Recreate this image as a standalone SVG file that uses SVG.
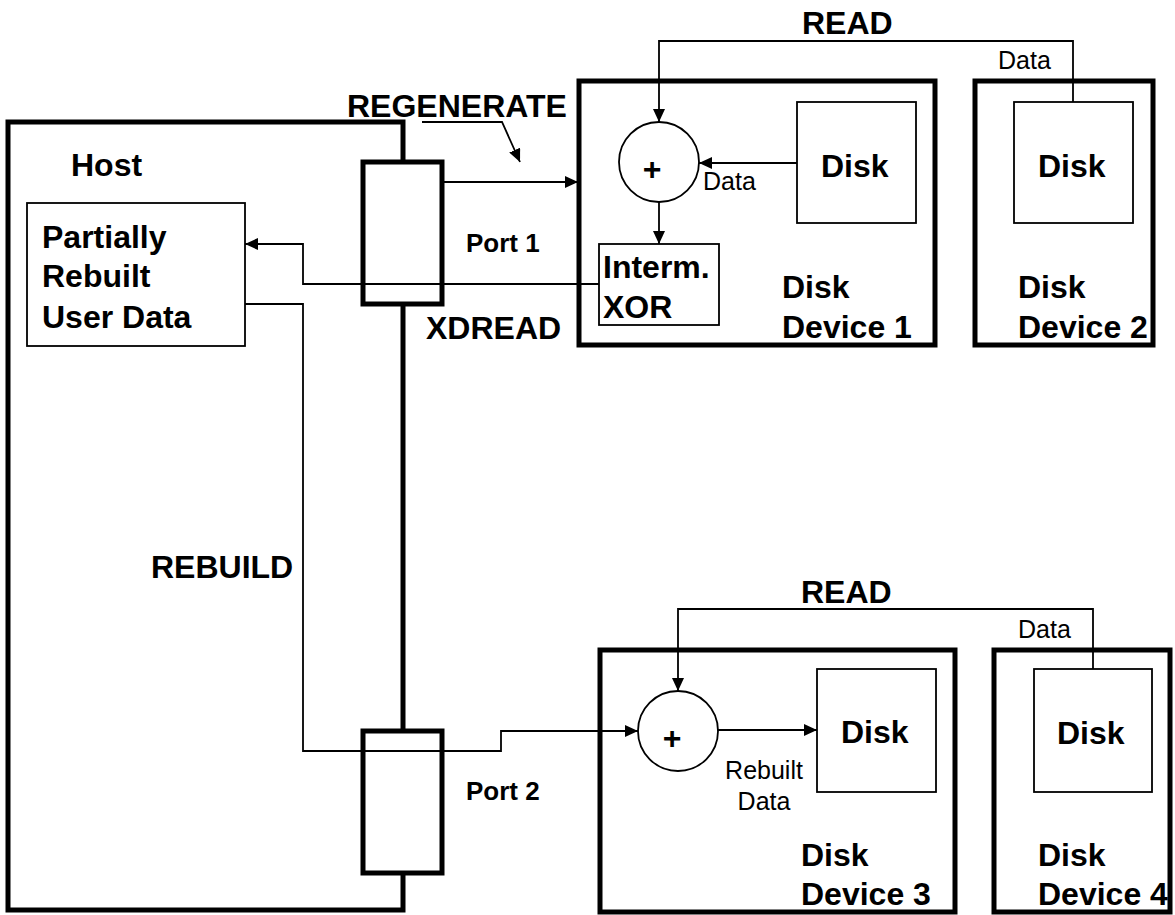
<svg xmlns="http://www.w3.org/2000/svg" width="1175" height="915" viewBox="0 0 1175 915">
<style>
.thick{fill:#fff;stroke:#000;stroke-width:5;stroke-linejoin:miter}
.thin{fill:#fff;stroke:#000;stroke-width:1.8}
.wire{fill:none;stroke:#000;stroke-width:1.8}
.b{font-family:"Liberation Sans",Arial,sans-serif;font-weight:bold;font-size:32px;fill:#000}
.p{font-family:"Liberation Sans",Arial,sans-serif;font-weight:bold;font-size:26px;fill:#000}
.r{font-family:"Liberation Sans",Arial,sans-serif;font-size:25px;fill:#000}
</style>
<defs>
<marker id="ah" markerUnits="userSpaceOnUse" markerWidth="14" markerHeight="12" refX="13" refY="6" orient="auto">
<path d="M0,0 L13,6 L0,12 z" fill="#000"/>
</marker>
</defs>
<rect width="1175" height="915" fill="#fff"/>

<g id="host">
<rect class="thick" x="8" y="122" width="395" height="788" fill="none"/>
<text class="b" x="71" y="176">Host</text>
</g>
<g id="partial">
<rect class="thin" x="27" y="203" width="218" height="143"/>
<text class="b" x="42" y="248">Partially</text>
<text class="b" x="42" y="287">Rebuilt</text>
<text class="b" x="42" y="328">User Data</text>
</g>
<g id="port1">
<rect class="thick" x="363" y="162" width="79" height="142"/>
<text class="p" x="466" y="252">Port 1</text>
</g>
<g id="port2">
<rect class="thick" x="363" y="731" width="79" height="142"/>
<text class="p" x="466" y="800">Port 2</text>
</g>

<g id="dev1">
<rect class="thick" x="579" y="81" width="356" height="264"/>
<text class="b" x="782" y="298">Disk</text>
<text class="b" x="782" y="338">Device 1</text>
</g>
<g id="disk1">
<rect class="thin" x="797" y="102" width="119" height="121"/>
<text class="b" x="821" y="177">Disk</text>
</g>
<g id="xor1">
<circle class="thin" cx="659" cy="162" r="40"/>
<text class="b" x="652" y="180" text-anchor="middle" font-size="30">+</text>
</g>
<g id="interm">
<rect class="thin" x="599" y="244" width="120" height="81"/>
<text class="b" x="603" y="278">Interm.</text>
<text class="b" x="603" y="318">XOR</text>
</g>

<g id="dev2">
<rect class="thick" x="975" y="81" width="178" height="264"/>
<text class="b" x="1018" y="298">Disk</text>
<text class="b" x="1018" y="338">Device 2</text>
</g>
<g id="disk2">
<rect class="thin" x="1014" y="102" width="119" height="121"/>
<text class="b" x="1038" y="177">Disk</text>
</g>

<g id="dev3">
<rect class="thick" x="600" y="650" width="355" height="262"/>
<text class="b" x="801" y="866">Disk</text>
<text class="b" x="801" y="905">Device 3</text>
</g>
<g id="disk3">
<rect class="thin" x="817" y="669" width="119" height="123"/>
<text class="b" x="841" y="743">Disk</text>
</g>
<g id="xor3">
<circle class="thin" cx="678" cy="731" r="40"/>
<text class="b" x="672" y="749" text-anchor="middle" font-size="30">+</text>
</g>

<g id="dev4">
<rect class="thick" x="994" y="650" width="176" height="262"/>
<text class="b" x="1038" y="866">Disk</text>
<text class="b" x="1038" y="905">Device 4</text>
</g>
<g id="disk4">
<rect class="thin" x="1034" y="669" width="118" height="123"/>
<text class="b" x="1057" y="744">Disk</text>
</g>

<g id="connectors">
<path class="wire" d="M442,182 L578,182" marker-end="url(#ah)"/>
<path class="wire" d="M1073,102 L1073,41 L659,41 L659,122" marker-end="url(#ah)"/>
<path class="wire" d="M797,163 L699,163" marker-end="url(#ah)"/>
<path class="wire" d="M659,202 L659,244" marker-end="url(#ah)"/>
<path class="wire" d="M599,284 L303,284 L303,244 L245,244" marker-end="url(#ah)"/>
<path class="wire" d="M245,304 L303,304 L303,751 L501,751 L501,731 L638,731" marker-end="url(#ah)"/>
<path class="wire" d="M1093,669 L1093,609 L678,609 L678,691" marker-end="url(#ah)"/>
<path class="wire" d="M718,730 L817,730" marker-end="url(#ah)"/>
<path class="wire" d="M422,122 L502,122 L520,162" marker-end="url(#ah)"/>
</g>

<g id="labels">
<text class="b" x="347" y="117">REGENERATE</text>
<text class="b" x="426" y="339">XDREAD</text>
<text class="b" x="151" y="578">REBUILD</text>
<text class="b" x="802" y="34">READ</text>
<text class="r" x="998" y="69">Data</text>
<text class="r" x="703" y="190">Data</text>
<text class="b" x="801" y="603">READ</text>
<text class="r" x="1018" y="638">Data</text>
<text class="r" x="764" y="779" text-anchor="middle">Rebuilt</text>
<text class="r" x="764" y="810" text-anchor="middle">Data</text>
</g>
</svg>
